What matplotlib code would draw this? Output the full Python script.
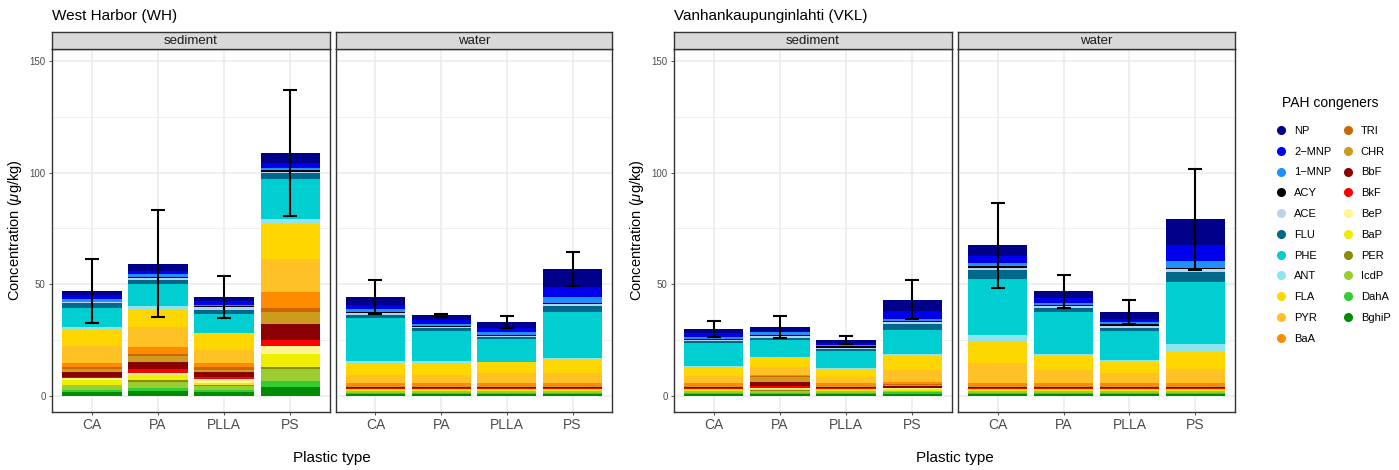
import numpy as np
import matplotlib
matplotlib.use('Agg')
import matplotlib.pyplot as plt
from matplotlib.lines import Line2D

plt.rcParams['font.family'] = ['Liberation Sans', 'DejaVu Sans']
plt.rcParams['mathtext.fontset'] = 'custom'
plt.rcParams['mathtext.rm'] = 'Liberation Sans'
plt.rcParams['mathtext.it'] = 'Liberation Sans:italic'

plastics = ['CA', 'PA', 'PLLA', 'PS']
congeners = ['NP', '2\u2212MNP', '1\u2212MNP', 'ACY', 'ACE', 'FLU', 'PHE', 'ANT', 'FLA', 'PYR', 'BaA',
             'TRI', 'CHR', 'BbF', 'BkF', 'BeP', 'BaP', 'PER', 'IcdP', 'DahA', 'BghiP']
colors = ['#00008B', '#0000EE', '#1E90FF', '#000000', '#B9D3EE', '#00688B', '#00CED1', '#8EE5EE',
          '#FFD700', '#FFC125', '#FF8C00', '#CD6600', '#CD9B1D', '#8B0000', '#FF0000', '#FFF68F',
          '#EEEE00', '#8B8B00', '#9ACD32', '#32CD32', '#008B00']

# rows follow congeners order, columns follow plastics (CA, PA, PLLA, PS)
wh_sediment = [
    [2.1, 3.1, 2.1, 4.5], [1.8, 1.4, 1.6, 2.1], [1.0, 1.3, 0.6, 0.9], [0.3, 0.6, 0.5, 0.9],
    [0.5, 0.7, 1.0, 0.5], [1.9, 1.8, 1.8, 2.7], [8.8, 9.9, 8.6, 17.9], [0.7, 1.3, 0.6, 1.8],
    [7.5, 8.1, 6.9, 16.5], [7.6, 9.0, 5.8, 14.4], [1.8, 3.5, 2.1, 7.2], [1.2, 0.9, 1.1, 2.1],
    [1.1, 2.3, 1.2, 5.1], [2.5, 3.4, 2.2, 7.4], [0.4, 1.5, 1.0, 2.4], [0.9, 1.3, 1.4, 4.0],
    [2.0, 2.1, 1.2, 5.4], [0.4, 0.9, 0.4, 1.2], [2.1, 2.7, 1.8, 5.5], [0.9, 1.5, 0.9, 2.6],
    [1.5, 1.8, 1.5, 3.7]]
wh_water = [
    [3.4, 2.1, 2.7, 8.1], [1.8, 1.8, 1.8, 4.5], [1.5, 0.9, 1.3, 2.7], [0.6, 0.3, 0.3, 0.45],
    [0.75, 0.6, 0.6, 0.9], [1.3, 1.3, 0.9, 2.7], [19.3, 13.6, 10.0, 20.6], [0.9, 0.75, 0.3, 0.9],
    [5.2, 5.2, 4.9, 5.8], [3.9, 3.9, 4.5, 4.5], [0.7, 0.7, 0.7, 0.7], [0.3, 0.3, 0.3, 0.3],
    [0.5, 0.5, 0.5, 0.5], [0.5, 0.5, 0.5, 0.5], [0.4, 0.4, 0.4, 0.4], [0.4, 0.4, 0.4, 0.4],
    [0.6, 0.6, 0.6, 0.6], [0.3, 0.3, 0.3, 0.3], [0.5, 0.5, 0.5, 0.5], [0.5, 0.5, 0.5, 0.5],
    [0.8, 0.8, 0.8, 0.8]]
vkl_sediment = [
    [2.1, 1.5, 1.2, 4.9], [1.5, 0.6, 1.0, 3.6], [0.9, 1.2, 0.45, 1.0], [0.45, 0.6, 0.75, 0.45],
    [0.75, 1.0, 0.45, 0.75], [0.9, 0.9, 0.9, 2.7], [10.3, 7.5, 7.8, 10.7], [0.45, 0.6, 0.9, 0.9],
    [3.7, 4.0, 3.0, 6.3], [3.4, 3.3, 2.8, 5.5], [0.7, 0.45, 0.7, 0.9], [0.3, 0.75, 0.3, 0.35],
    [0.5, 2.2, 0.5, 0.8], [0.5, 1.8, 0.5, 0.5], [0.4, 0.9, 0.4, 0.4], [0.4, 0.45, 0.4, 0.4],
    [0.6, 0.6, 0.6, 0.6], [0.3, 0.45, 0.3, 0.3], [0.5, 0.6, 0.5, 0.5], [0.5, 0.45, 0.5, 0.5],
    [0.8, 0.75, 0.8, 0.85]]
vkl_water = [
    [4.9, 3.1, 3.1, 11.6], [3.0, 2.2, 1.6, 7.2], [1.5, 0.9, 1.0, 3.1], [0.75, 0.45, 0.6, 0.45],
    [0.9, 0.9, 1.2, 1.3], [4.2, 1.8, 1.3, 4.5], [24.9, 18.8, 13.0, 27.8], [3.3, 0.9, 0.9, 3.0],
    [9.3, 6.3, 4.9, 8.2], [8.8, 5.8, 4.5, 6.0], [1.0, 0.7, 0.7, 1.0], [0.3, 0.3, 0.3, 0.3],
    [0.5, 0.5, 0.5, 0.5], [0.5, 0.5, 0.5, 0.5], [0.4, 0.4, 0.4, 0.4], [0.4, 0.4, 0.4, 0.4],
    [0.6, 0.6, 0.6, 0.6], [0.3, 0.3, 0.3, 0.3], [0.5, 0.5, 0.5, 0.5], [0.5, 0.5, 0.5, 0.5],
    [0.8, 0.8, 0.8, 0.8]]

wh_sediment_sd = [14.3, 24.0, 9.4, 28.4]
wh_water_sd = [7.6, 0.75, 2.7, 7.6]
vkl_sediment_sd = [3.5, 5.0, 1.85, 8.8]
vkl_water_sd = [19.2, 7.4, 5.4, 22.5]

W, H = 1399, 470
fig = plt.figure(figsize=(W/100, H/100), dpi=100)

def rect(x0, y0, x1, y1):
    return [x0/W, 1 - y1/H, (x1 - x0)/W, (y1 - y0)/H]

panels = [
    (52, 330, 'sediment', wh_sediment, wh_sediment_sd, True),
    (336, 612, 'water', wh_water, wh_water_sd, False),
    (674, 952, 'sediment', vkl_sediment, vkl_sediment_sd, True),
    (958, 1235, 'water', vkl_water, vkl_water_sd, False),
]
ptop, pbot, stop = 49, 412, 32

x = np.arange(len(plastics))
for x0, x1, strip, data, sd, first in panels:
    ax = fig.add_axes(rect(x0, ptop, x1, pbot))
    vals = np.array(data)
    bottom = np.zeros(len(plastics))
    for i in range(len(congeners) - 1, -1, -1):
        ax.bar(x, vals[i], 0.9, bottom=bottom, color=colors[i], linewidth=0, zorder=2)
        bottom += vals[i]
    ax.errorbar(x, bottom, yerr=sd, fmt='none', ecolor='black', elinewidth=1.5,
                capsize=4.7, capthick=1.5, zorder=3)
    ax.set_xlim(-0.6, 3.6)
    ax.set_ylim(-7.4, 155.4)
    ax.set_xticks(x)
    ax.set_xticklabels(plastics, fontsize=10, color='#4D4D4D')
    ax.set_yticks([0, 50, 100, 150])
    ax.set_yticks([25, 75, 125], minor=True)
    ax.grid(True, which='major', color='#EBEBEB', linewidth=1.1, zorder=0)
    ax.grid(True, which='minor', axis='y', color='#EBEBEB', linewidth=0.55, zorder=0)
    ax.set_axisbelow(True)
    ax.tick_params(axis='both', which='major', length=2.5, width=0.6, color='#333333', pad=2)
    ax.tick_params(axis='y', which='minor', length=0)
    if first:
        ax.set_yticklabels(['0', '50', '100', '150'], fontsize=7, color='#4D4D4D')
    else:
        ax.set_yticklabels([])
        ax.tick_params(axis='y', which='major', length=0)
    for s in ax.spines.values():
        s.set_color('#333333')
        s.set_linewidth(1.0)
    sax = fig.add_axes(rect(x0, stop, x1, ptop))
    sax.set_facecolor('#D9D9D9')
    sax.set_xticks([])
    sax.set_yticks([])
    for s in sax.spines.values():
        s.set_color('#333333')
        s.set_linewidth(1.0)
    sax.text(0.5, 0.45, strip, ha='center', va='center', fontsize=9.5, color='#1A1A1A',
             transform=sax.transAxes)

# titles and axis labels
fig.text(52/W, 1 - 16/H, 'West Harbor (WH)', fontsize=11, ha='left', va='center')
fig.text(674/W, 1 - 16/H, 'Vanhankaupunginlahti (VKL)', fontsize=11, ha='left', va='center')
for xc in [332, 955]:
    fig.text(xc/W, 1 - 458/H, 'Plastic type', fontsize=11, ha='center', va='center')
for xl in [15, 637]:
    fig.text(xl/W, 1 - 230/H, r'Concentration ($\mu$g/kg)', fontsize=10.5, ha='center',
             va='center', rotation=90)

# legend
fig.text(1330/W, 1 - 103/H, 'PAH congeners', fontsize=10, ha='center', va='center')
handles = [Line2D([0], [0], marker='o', linestyle='none', markersize=5.5,
                  markerfacecolor=c, markeredgecolor=c) for c in colors]
leg = fig.legend(handles, congeners, ncol=2, loc='upper left', bbox_to_anchor=(1264/W, 1 - 117/H),
                 frameon=False, fontsize=8, handletextpad=0.4, columnspacing=0.75,
                 labelspacing=0.97, handlelength=1.5, borderpad=0.3)

fig.savefig('out.png', dpi=100)
